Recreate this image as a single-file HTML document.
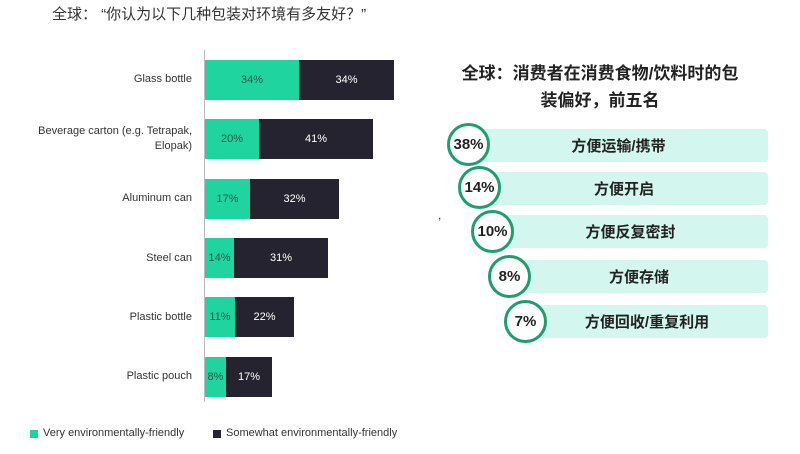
<!DOCTYPE html>
<html><head><meta charset="utf-8"><style>
body{margin:0;width:800px;height:454px;background:#fff;position:relative;overflow:hidden;font-family:"Liberation Sans","Noto Sans CJK SC",sans-serif}
.a{position:absolute}
.lab{position:absolute;right:608px;font-size:11px;color:#333;text-align:right;line-height:15px}
.g{position:absolute;background:#1fd49e;height:40px;color:#2a5a4a;font-size:11px;display:flex;align-items:center;justify-content:center}
.d{position:absolute;background:#25232f;height:40px;color:#fff;font-size:11px;display:flex;align-items:center;justify-content:center}
.r{position:absolute;background:#d3f6ee;height:33px;right:32px;border-radius:4px;font-weight:bold;font-size:15px;color:#222;display:flex;align-items:center;justify-content:center}
.c{position:absolute;width:37px;height:37px;border:3px solid #1c9e6e;border-radius:50%;background:#fff;font-weight:bold;font-size:15px;color:#222;display:flex;align-items:center;justify-content:center}
</style></head><body>
<div class="a" style="left:52px;top:3px;font-size:15px;color:#333">全球： “你认为以下几种包装对环境有多友好？”</div>
<div class="a" style="left:204px;top:50px;width:1px;height:352px;background:#bbb"></div>
<div class="lab" style="top:72px">Glass bottle</div>
<div class="g" style="left:205px;top:60px;width:94px">34%</div><div class="d" style="left:299px;top:60px;width:95px">34%</div>
<div class="lab" style="top:124px">Beverage carton (e.g. Tetrapak,<br>Elopak)</div>
<div class="g" style="left:205px;top:119px;width:54px">20%</div><div class="d" style="left:259px;top:119px;width:114px">41%</div>
<div class="lab" style="top:191px">Aluminum can</div>
<div class="g" style="left:205px;top:179px;width:45px">17%</div><div class="d" style="left:250px;top:179px;width:89px">32%</div>
<div class="lab" style="top:251px">Steel can</div>
<div class="g" style="left:205px;top:238px;width:29px">14%</div><div class="d" style="left:234px;top:238px;width:94px">31%</div>
<div class="lab" style="top:310px">Plastic bottle</div>
<div class="g" style="left:205px;top:297px;width:30px">11%</div><div class="d" style="left:235px;top:297px;width:59px">22%</div>
<div class="lab" style="top:369px">Plastic pouch</div>
<div class="g" style="left:205px;top:357px;width:21px">8%</div><div class="d" style="left:226px;top:357px;width:46px">17%</div>
<div class="a" style="left:30px;top:430px;width:8px;height:8px;background:#1fd49e"></div>
<div class="a" style="left:43px;top:427px;font-size:11px;color:#333">Very environmentally-friendly</div>
<div class="a" style="left:213px;top:430px;width:8px;height:8px;background:#25232f"></div>
<div class="a" style="left:226px;top:427px;font-size:11px;color:#333">Somewhat environmentally-friendly</div>
<div class="a" style="left:440px;top:60px;width:320px;text-align:center;font-weight:bold;font-size:17px;line-height:27px;color:#222">全球：消费者在消费食物/饮料时的包<br>装偏好，前五名</div>
<div class="r" style="left:469px;top:129px">方便运输/携带</div>
<div class="r" style="left:480px;top:172px">方便开启</div>
<div class="r" style="left:493px;top:215px">方便反复密封</div>
<div class="r" style="left:510px;top:260px">方便存储</div>
<div class="r" style="left:526px;top:305px">方便回收/重复利用</div>
<div class="c" style="left:447px;top:123px">38%</div>
<div class="c" style="left:458px;top:166px">14%</div>
<div class="c" style="left:471px;top:210px">10%</div>
<div class="c" style="left:488px;top:255px">8%</div>
<div class="c" style="left:504px;top:300px">7%</div>
<div class="a" style="left:438px;top:208px;font-size:12px;color:#333">,</div>
</body></html>
